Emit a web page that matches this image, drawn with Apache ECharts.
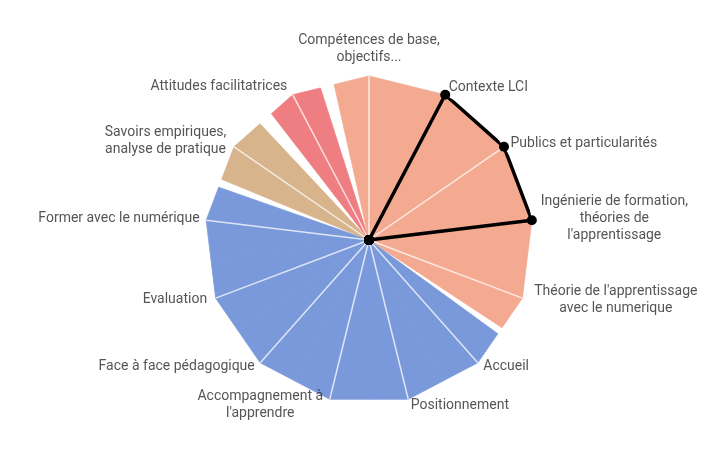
<!DOCTYPE html>
<html><head><meta charset="utf-8">
<script src="https://cdn.jsdelivr.net/npm/echarts@6/dist/echarts.min.js"></script>
<style>html,body{margin:0;padding:0;background:#fff}#c{width:713px;height:455px}</style>
</head><body><div id="c"></div>
<script>
// ---- data ----
const categories = [
  "Compétences de base,\nobjectifs...",
  "Contexte LCI",
  "Publics et particularités",
  "Ingénierie de formation,\nthéories de\nl'apprentissage",
  "Théorie de l'apprentissage\navec le numerique",
  "Accueil",
  "Positionnement",
  "Accompagnement à\nl'apprendre",
  "Face à face pédagogique",
  "Evaluation",
  "Former avec le numérique",
  "Savoirs empiriques,\nanalyse de pratique",
  "Attitudes facilitatrices"
];
const groupOf = [0,0,0,0,0,1,1,1,1,1,1,2,3];
const levels = [100,100,100,100,100,100,100,100,100,100,100,100,100];
const highlighted = [0,100,100,100,0,0,0,0,0,0,0,0,0];

// ---- style ----
const groupColors = ['#F4AA91','#7A99DB','#D8B48C','#EE7E82'];
const groupTrimDeg = [1.2,1.4,1.6,3.8];
const FONT = 'Roboto';
const FS = 14;
const TXT = '#2b2b2b';
const labelPlacement = [
  {position:'top',   distance:10, offset:[0,0]},
  {position:'right', distance:3,  offset:[0,-7]},
  {position:'right', distance:6,  offset:[0,-3]},
  {position:'right', distance:7,  offset:[0,-2]},
  {position:'right', distance:10, offset:[0,2]},
  {position:'right', distance:5,  offset:[0,4]},
  {position:'right', distance:2,  offset:[0,6]},
  {position:'left',  distance:5,  offset:[0,6]},
  {position:'left',  distance:5,  offset:[0,4]},
  {position:'left',  distance:8,  offset:[0,1]},
  {position:'left',  distance:6,  offset:[0,-2]},
  {position:'left',  distance:6,  offset:[0,-6]},
  {position:'left',  distance:5,  offset:[0,-8]}
];

const N = categories.length;
const step = 360 / N;
const measureCtx = document.createElement('canvas').getContext('2d');
measureCtx.font = FS + 'px ' + FONT;
function blockWidth(name){
  return Math.ceil(Math.max.apply(null, name.split('\n').map(l => measureCtx.measureText(l).width))) + 2;
}

function renderWedge(params, api) {
  const k = params.dataIndex;
  const v = api.value(0);
  const g = groupOf[k];
  const prev = (k - 1 + N) % N, next = (k + 1) % N;
  const O = api.coord([0, k]);
  const S = api.coord([v, k]);
  const Sp = api.coord([levels[prev], prev]);
  const Sn = api.coord([levels[next], next]);
  const fp = groupOf[prev] === g ? 0.5 : 0.5 - groupTrimDeg[g] / step;
  const fn = groupOf[next] === g ? 0.5 : 0.5 - groupTrimDeg[g] / step;
  const A = [S[0] + (Sp[0] - S[0]) * fp, S[1] + (Sp[1] - S[1]) * fp];
  const B = [S[0] + (Sn[0] - S[0]) * fn, S[1] + (Sn[1] - S[1]) * fn];
  return {
    type: 'polygon',
    shape: { points: [O, A, S, B] },
    style: { fill: groupColors[g], stroke: groupColors[g], lineWidth: 0.8 }
  };
}

const labelData = categories.map((name, k) => {
  const multi = name.indexOf('\n') >= 0;
  const pl = labelPlacement[k];
  return {
    name: name,
    value: [levels[k], k],
    label: {
      show: true,
      position: pl.position,
      distance: pl.distance,
      offset: pl.offset,
      formatter: multi ? name.split('\n').map(l => '{c|' + l + '}').join('\n') : name,
      rich: { c: { width: blockWidth(name), align: 'center', fontSize: FS, fontFamily: FONT, color: TXT, lineHeight: 17 } }
    }
  };
});

const chart = echarts.init(document.getElementById('c'), null, { renderer: 'canvas' });
chart.setOption({
  animation: false,
  backgroundColor: '#ffffff',
  polar: { center: [369, 240], radius: 164 },
  angleAxis: {
    type: 'category',
    data: categories,
    boundaryGap: false,
    startAngle: 90,
    clockwise: true,
    z: 4,
    axisLine: { show: false },
    axisTick: { show: false },
    axisLabel: { show: false },
    splitLine: { show: true, interval: 0, lineStyle: { color: 'rgba(255,255,255,0.75)', width: 1.5 } },
    splitArea: { show: false }
  },
  radiusAxis: {
    type: 'value', min: 0, max: 100, show: false,
    axisLine: { show: false }, axisTick: { show: false }, axisLabel: { show: false }, splitLine: { show: false }
  },
  series: [
    {
      type: 'custom',
      coordinateSystem: 'polar',
      z: 2,
      data: levels.map((v, k) => [v, k]),
      renderItem: renderWedge
    },
    {
      type: 'scatter',
      coordinateSystem: 'polar',
      z: 5,
      symbolSize: 1,
      itemStyle: { color: 'rgba(0,0,0,0)' },
      label: { fontSize: FS, fontFamily: FONT, color: TXT, lineHeight: 17 },
      data: labelData
    },
    {
      type: 'line',
      coordinateSystem: 'polar',
      z: 6,
      symbol: 'none',
      lineStyle: { color: '#000', width: 3.5, join: 'round' },
      data: highlighted.map((v, k) => [v, k])
    },
    {
      type: 'scatter',
      coordinateSystem: 'polar',
      z: 7,
      symbol: 'circle',
      symbolSize: 10,
      itemStyle: { color: '#000', opacity: 1 },
      data: highlighted.map((v, k) => [v, k])
    }
  ]
});
</script></body></html>
